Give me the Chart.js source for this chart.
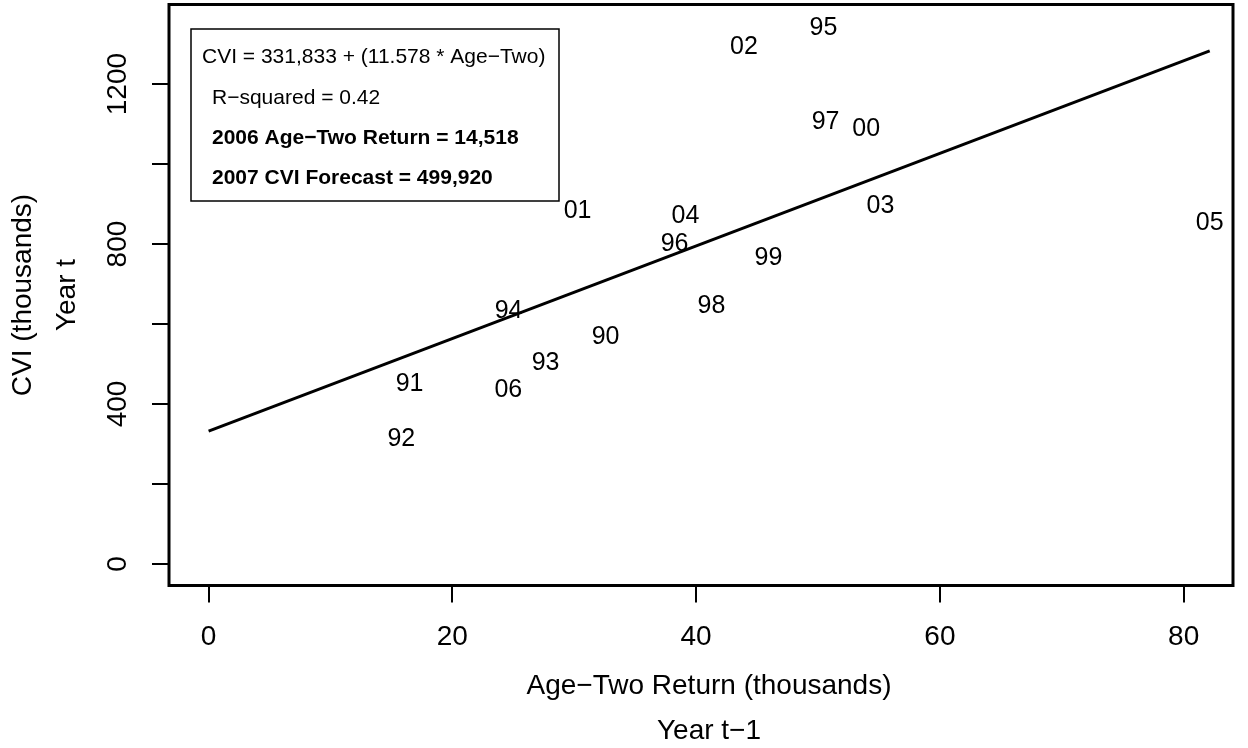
<!DOCTYPE html>
<html>
<head>
<meta charset="utf-8">
<script src="https://cdn.jsdelivr.net/npm/chart.js@4.4.1/dist/chart.umd.min.js"></script>
<style>
  html, body { margin: 0; padding: 0; background: #fff; }
  canvas { display: block; }
</style>
</head>
<body>
<canvas id="grafico" width="1248" height="748"></canvas>
<script>
// Datos
const anios = ['90', '91', '92', '93', '94', '95', '96', '97', '98', '99', '00', '01', '02', '03', '04', '05', '06'];
const ageTwo = [32.57, 16.49, 15.81, 27.65, 24.61, 50.45, 38.23, 50.62, 41.26, 45.94, 53.95, 30.27, 43.93, 55.13, 39.13, 82.14, 24.59];
const cvi = [567.5, 450, 313, 502.5, 631, 1341, 800, 1105, 645, 765, 1087.5, 882.5, 1292.5, 895, 870, 853, 435];

// Recta de regresion (extremos)
const rectaX = [0, 82.14];
const rectaY = [332, 1283];

// Ejes
const xTicks = [0, 20, 40, 60, 80];
const yTicks = [0, 200, 400, 600, 800, 1000, 1200];
const yTickLabels = ['0', '', '400', '', '800', '', '1200'];
const tituloX = ['Age\u2212Two Return (thousands)', 'Year t\u22121'];
const tituloY = ['CVI (thousands)', 'Year t'];

const leyenda = [
    'CVI = 331,833 + (11.578 * Age\u2212Two)',
    'R\u2212squared = 0.42',
    '2006 Age\u2212Two Return = 14,518',
    '2007 CVI Forecast = 499,920'
];

const FUENTE = '"Liberation Sans", Arial, Helvetica, sans-serif';

const pluginMarco = {
    id: 'marco',
    afterDatasetsDraw(chart) {
        const ctx = chart.ctx;
        const area = chart.chartArea;
        const xs = chart.scales.x;
        const ys = chart.scales.y;
        ctx.save();

        // etiquetas de los puntos
        ctx.fillStyle = '#000';
        ctx.font = '25px ' + FUENTE;
        ctx.textAlign = 'center';
        ctx.textBaseline = 'middle';
        chart.data.datasets[0].data.forEach(function(p, i) {
            ctx.fillText(anios[i], xs.getPixelForValue(p.x), ys.getPixelForValue(p.y));
        });

        // caja del grafico
        ctx.strokeStyle = '#000';
        ctx.lineWidth = 3;
        ctx.strokeRect(area.left, area.top, area.right - area.left, area.bottom - area.top);

        // etiquetas del eje y, giradas
        ctx.font = '28px ' + FUENTE;
        ys.ticks.forEach(function(t, i) {
            if (!yTickLabels[i]) return;
            ctx.save();
            ctx.translate(118, ys.getPixelForValue(t.value));
            ctx.rotate(-Math.PI / 2);
            ctx.fillText(yTickLabels[i], 0, 0);
            ctx.restore();
        });

        // titulos de los ejes
        ctx.fillText(tituloX[0], 709, 686);
        ctx.fillText(tituloX[1], 709, 731);
        const yc = (area.top + area.bottom) / 2;
        [23, 67].forEach(function(x, i) {
            ctx.save();
            ctx.translate(x, yc);
            ctx.rotate(-Math.PI / 2);
            ctx.fillText(tituloY[i], 0, 0);
            ctx.restore();
        });

        // caja de texto
        ctx.lineWidth = 1.5;
        ctx.strokeRect(191, 29, 368, 172);
        ctx.textAlign = 'left';
        const filas = [57.5, 98, 138, 178];
        leyenda.forEach(function(txt, i) {
            ctx.font = (i >= 2 ? 'bold ' : '') + '21px ' + FUENTE;
            ctx.fillText(txt, i === 0 ? 202 : 212, filas[i]);
        });
        ctx.restore();
    }
};

function crearGrafico() {
    const ctx = document.getElementById('grafico').getContext('2d');
    const puntos = ageTwo.map((x, i) => ({ x: x, y: cvi[i] }));
    const recta = rectaX.map((x, i) => ({ x: x, y: rectaY[i] }));

    new Chart(ctx, {
        type: 'scatter',
        data: {
            datasets: [
                {
                    label: 'CVI',
                    data: puntos,
                    pointRadius: 0,
                    pointHoverRadius: 0,
                    showLine: false
                },
                {
                    label: 'Regresion',
                    data: recta,
                    showLine: true,
                    borderColor: '#000',
                    borderWidth: 3,
                    pointRadius: 0,
                    fill: false
                }
            ]
        },
        options: {
            responsive: false,
            animation: false,
            devicePixelRatio: 1,
            layout: { padding: { top: 4.5, right: 15, left: 0, bottom: 0 } },
            plugins: {
                legend: { display: false },
                tooltip: { enabled: false }
            },
            scales: {
                x: {
                    type: 'linear',
                    min: -3.25,
                    max: 84.05,
                    afterBuildTicks: function(scale) {
                        scale.ticks = xTicks.map(v => ({ value: v }));
                    },
                    afterFit: function(scale) { scale.height = 162.5; },
                    grid: { drawOnChartArea: false, drawTicks: true, tickLength: 17, color: '#000', lineWidth: 2 },
                    border: { display: false },
                    ticks: {
                        color: '#000',
                        padding: 17.5,
                        maxRotation: 0,
                        font: { family: FUENTE, size: 28 },
                        callback: function(v) { return String(v); }
                    }
                },
                y: {
                    type: 'linear',
                    min: -54,
                    max: 1399,
                    afterBuildTicks: function(scale) {
                        scale.ticks = yTicks.map(v => ({ value: v }));
                    },
                    afterFit: function(scale) { scale.width = 169; },
                    grid: { drawOnChartArea: false, drawTicks: true, tickLength: 17, color: '#000', lineWidth: 2 },
                    border: { display: false },
                    ticks: { display: false }
                }
            }
        },
        plugins: [pluginMarco]
    });
}

crearGrafico();
</script>
</body>
</html>
